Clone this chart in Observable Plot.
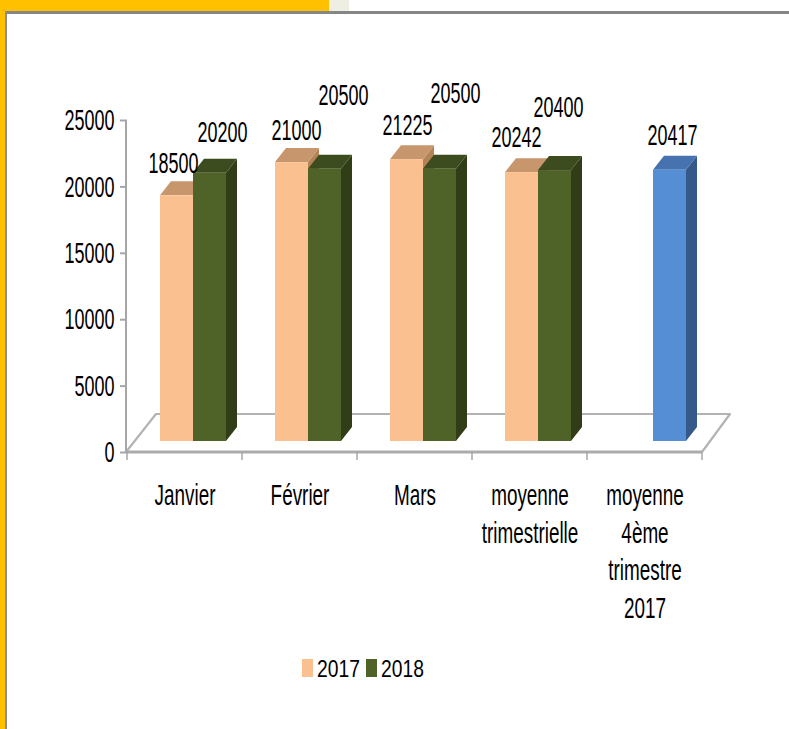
<!DOCTYPE html>
<html><head><meta charset="utf-8">
<script src="https://cdn.jsdelivr.net/npm/d3@7"></script>
<script src="https://cdn.jsdelivr.net/npm/@observablehq/plot@0.6"></script>
<style>
html,body{margin:0;padding:0;background:#fff;}
#wrap{position:relative;width:789px;height:729px;overflow:hidden;background:#fff;}
.deco{position:absolute;z-index:5;}
#chart{position:absolute;left:0;top:0;}
#legend{position:absolute;left:0;top:640px;}
</style></head><body>
<div id="wrap">
  <div id="chart"></div>
  <div id="legend"></div>
  <div class="deco" style="left:0;top:0;width:329px;height:11px;background:#FFC000"></div>
  <div class="deco" style="left:329px;top:0;width:20px;height:11px;background:#EEEEE2"></div>
  <div class="deco" style="left:5px;top:11px;width:784px;height:3px;background:#868686"></div>
  <div class="deco" style="left:0;top:0;width:5px;height:729px;background:#FFC000"></div>
  <div class="deco" style="left:5px;top:11px;width:2px;height:718px;background:#8E8E8E"></div>
</div>
<script>
// ---- data ----
const categories = ["Janvier", "Février", "Mars", "moyenne trimestrielle", "moyenne 4ème trimestre 2017"];
const categoryLabels = ["Janvier", "Février", "Mars", "moyenne\ntrimestrielle", "moyenne\n4ème\ntrimestre\n2017"];
const seriesNames = ["2017", "2018"];
const values2017 = [18500, 21000, 21225, 20242, null];
const values2018 = [20200, 20500, 20500, 20400, 20417];
const yTicks = [0, 5000, 10000, 15000, 20000, 25000];

// ---- styling / layout (not data) ----
const colors = {
  "2017": {front: "#FAC090", top: "#C8966C", side: "#B58358"},
  "2018": {front: "#4F6228", top: "#3D4C1F", side: "#303D17"},
  highlight: {front: "#558ED5", top: "#4673B0", side: "#35598B"}
};
const insets = {"2017": [33, 49], "2018": [66, 16]};
const seriesCenterDx = {"2017": -8, "2018": 25};
const DEPTH = {dx: 11, dy: -14};
const FRONT_DY = -11;
const FLOOR = {dx: 30, dy: -38};
// manual label nudges (as in the original, where labels were moved by hand)
const labelNudge2017 = [[-3.5, -43], [4.5, -43], [0.5, -45], [-5.5, -46], [0, 0]];
const labelNudge2018 = [[12.5, -52], [18.5, -85], [15.5, -87], [3.5, -74], [2.5, -46]];

const rows = [];
categories.forEach((cat, i) => {
  [["2017", values2017[i], labelNudge2017[i]], ["2018", values2018[i], labelNudge2018[i]]].forEach(([s, v, nudge]) => {
    if (v == null) return;
    const pal = (i === categories.length - 1 && s === "2018") ? colors.highlight : colors[s];
    rows.push({cat, series: s, value: v, front: pal.front, top: pal.top, side: pal.side, nudge});
  });
});

function floorMark(index, scales, values, dims) {
  const y = scales.y;
  const x0 = dims.marginLeft - 1, x1 = dims.width - dims.marginRight, y0 = y(0);
  const g = d3.create("svg:g").attr("fill", "none").attr("stroke", "#B3B3B3").attr("stroke-linejoin", "round");
  g.append("path").attr("stroke-width", 2.2)
    .attr("d", `M${x0},${y0}L${x0 + FLOOR.dx},${y0 + FLOOR.dy}L${x1 + FLOOR.dx - 2},${y0 + FLOOR.dy}L${x1},${y0}`);
  g.append("path").attr("stroke-width", 3).attr("stroke", "#ABABAB").attr("d", `M${x0},${y0}L${x1},${y0}`);
  // vertical axis line
  g.append("path").attr("stroke-width", 2).attr("stroke", "#A6A6A6").attr("d", `M${x0},${y0}L${x0},${y(25000)}`);
  // category boundary ticks
  const bw = typeof scales.x.bandwidth === "function" ? scales.x.bandwidth() : scales.x.bandwidth;
  for (let i = 0; i <= categories.length; i++) {
    const xx = (i < categories.length ? scales.x(categories[i]) : scales.x(categories[i - 1]) + bw);
    g.append("path").attr("stroke-width", 1.5).attr("stroke", "#A6A6A6").attr("d", `M${xx},${y0}L${xx},${y0 + 8}`);
  }
  return g.node();
}

function facesMark(index, scales, values, dims) {
  const {x, y} = scales;
  const bw = typeof x.bandwidth === "function" ? x.bandwidth() : x.bandwidth;
  const g = d3.create("svg:g");
  for (const r of rows) {
    const [il, ir] = insets[r.series];
    const xl = x(r.cat) + il, xr = x(r.cat) + bw - ir;
    const yt = y(r.value) + FRONT_DY, yb = y(0) + FRONT_DY;
    g.append("path").attr("fill", r.side)
      .attr("d", `M${xr},${yt}L${xr + DEPTH.dx},${yt + DEPTH.dy}L${xr + DEPTH.dx},${yb + DEPTH.dy}L${xr},${yb}Z`);
    g.append("path").attr("fill", r.top)
      .attr("d", `M${xl},${yt}L${xl + DEPTH.dx},${yt + DEPTH.dy}L${xr + DEPTH.dx},${yt + DEPTH.dy}L${xr},${yt}Z`);
  }
  return g.node();
}

const FONT = "'Liberation Sans', Arial, sans-serif";
const marks = [floorMark, facesMark];
seriesNames.forEach(s => {
  marks.push(Plot.barY(rows.filter(r => r.series === s), {
    x: "cat", y: "value", fill: "front",
    insetLeft: insets[s][0], insetRight: insets[s][1], dy: FRONT_DY
  }));
});
marks.push(Plot.axisY({ticks: yTicks, tickSize: 7, tickPadding: 6, tickFormat: d => String(d),
  stroke: "#A6A6A6", strokeWidth: 2, label: null, fill: "#000"}));
rows.forEach(r => {
  marks.push(Plot.text([r], {x: "cat", y: "value", text: d => String(d.value),
    dx: seriesCenterDx[r.series] + r.nudge[0], dy: r.nudge[1], fill: "#000", fontSize: 30}));
});
marks.push(Plot.text(categories, {x: d => d, text: (d, i) => categoryLabels[i], frameAnchor: "bottom",
  lineAnchor: "top", dy: 26, lineHeight: 1.25, fill: "#000", fontSize: 30}));

const chart = Plot.plot({
  width: 789, height: 640,
  marginTop: 120, marginBottom: 188, marginLeft: 127, marginRight: 87,
  style: {fontFamily: FONT, fontSize: "30px", background: "transparent", color: "#000"},
  x: {type: "band", domain: categories, padding: 0, axis: null},
  y: {domain: [0, 25000], axis: null},
  color: {type: "identity"},
  marks
});

// Compress text horizontally (original font is a narrow geometric face)
chart.querySelectorAll("text").forEach(t => {
  const s = /^\s*\d+\s*$/.test(t.textContent) ? 0.6 : 0.63;
  const xa = t.getAttribute("x");
  let extra = "";
  if (xa != null && !isNaN(+xa) && +xa !== 0) { extra = ` translate(${+xa},0)`; t.setAttribute("x", 0); }
  t.setAttribute("transform", `${t.getAttribute("transform") || ""}${extra} scale(${s},1)`);
});
document.getElementById("chart").appendChild(chart);

// legend
const leg = d3.select("#legend").append("svg").attr("width", 789).attr("height", 60);
const legX = [302, 366];
seriesNames.forEach((s, i) => {
  leg.append("rect").attr("x", legX[i]).attr("y", 19).attr("width", 11).attr("height", 18).attr("fill", colors[s].front);
  leg.append("text").attr("transform", `translate(${legX[i] + 15},37) scale(0.84,1)`)
    .attr("font-family", FONT).attr("font-size", 23).attr("fill", "#000").text(s);
});
</script>
</body></html>
